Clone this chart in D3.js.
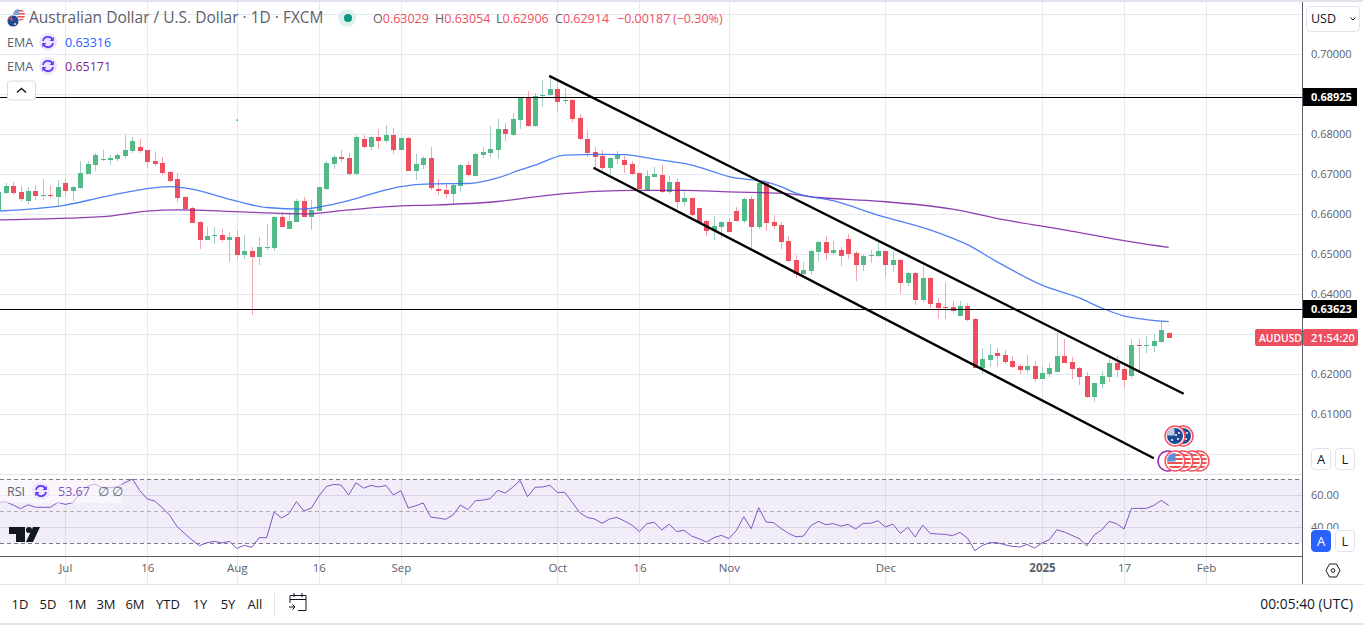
<!DOCTYPE html>
<html><head><meta charset="utf-8">
<script src="https://cdn.jsdelivr.net/npm/d3@7/dist/d3.min.js"></script>
<style>
html,body{margin:0;padding:0;background:#fff;overflow:hidden}
svg{display:block}
text{font-family:"Open Sans","Noto Sans",sans-serif}
</style></head><body><svg id="c" width="1363" height="625"></svg>
<script>
const open=[.6611,.6653,.6671,.6656,.6633,.6658,.6646,.6648,.6643,.6678,
.6658,.6666,.6701,.6723,.6736,.6736,.6738,.6746,.6758,.6768,
.6761,.6733,.6728,.6706,.6688,.6643,.6616,.6581,.6536,.6546,
.6548,.6536,.6543,.6498,.6508,.6493,.6516,.6516,.6593,.6563,
.6581,.6633,.6593,.6608,.6663,.6726,.6743,.6741,.6701,.6788,
.6768,.6793,.6783,.6798,.6761,.6791,.6708,.6723,.6741,.6663,
.6661,.6651,.6671,.6723,.6696,.6748,.6753,.6761,.6813,.6798,
.6836,.6891,.6821,.6896,.6898,.6913,.6883,.6886,.6841,.6788,
.6756,.6746,.6716,.6738,.6736,.6726,.6703,.6661,.6693,.6698,
.6656,.6681,.6631,.6641,.6616,.6583,.6558,.6568,.6581,.6608,
.6583,.6638,.6568,.6678,.6581,.6573,.6533,.6486,.6451,.6458,
.6506,.6531,.6503,.6511,.6538,.6503,.6473,.6496,.6496,.6508,
.6473,.6486,.6428,.6453,.6386,.6441,.6378,.6368,.6368,.6346,
.6371,.6338,.6216,.6236,.6253,.6248,.6233,.6221,.6211,.6221,
.6188,.6201,.6206,.6246,.6231,.6216,.6196,.6143,.6176,.6193,
.6228,.6213,.6196,.6273,.6271,.6271,.6281,.63029];
const high=[.6661,.6678,.6681,.6671,.6668,.6673,.6688,.6673,.6686,.6688,
.6671,.6733,.6733,.6753,.6761,.6748,.6753,.6798,.6793,.6788,
.6761,.6756,.6743,.6708,.6703,.6646,.6618,.6583,.6568,.6568,
.6563,.6556,.6561,.6548,.6518,.6543,.6576,.6596,.6606,.6606,
.6638,.6643,.6636,.6668,.6733,.6748,.6761,.6753,.6798,.6798,
.6796,.6813,.6823,.6816,.6793,.6793,.6751,.6746,.6768,.6688,
.6676,.6676,.6726,.6733,.6753,.6768,.6821,.6838,.6828,.6853,
.6893,.6908,.6903,.6936,.6943,.6933,.6916,.6888,.6851,.6811,
.6768,.6761,.6743,.6758,.6746,.6733,.6703,.6711,.6718,.6723,
.6696,.6691,.6658,.6641,.6616,.6586,.6596,.6583,.6591,.6618,
.6641,.6646,.6686,.6681,.6598,.6581,.6546,.6498,.6481,.6511,
.6533,.6546,.6533,.6518,.6551,.6508,.6501,.6511,.6528,.6508,
.6506,.6488,.6456,.6456,.6471,.6443,.6391,.6431,.6383,.6383,
.6378,.6341,.6266,.6276,.6266,.6261,.6246,.6226,.6248,.6233,
.6221,.6228,.6303,.6288,.6243,.6218,.6206,.6178,.6208,.6248,
.6246,.6228,.6288,.6288,.6296,.6301,.6333,.63054];
const low=[.6609,.6651,.6649,.6633,.6627,.6636,.6636,.6641,.6621,.6643,
.6633,.6663,.6701,.6708,.6733,.6723,.6733,.6741,.6753,.6753,
.6716,.6721,.6698,.6681,.6631,.6611,.6578,.6513,.6536,.6526,
.6531,.6481,.6488,.6488,.6348,.6473,.6511,.6508,.6568,.6563,
.6581,.6593,.6561,.6608,.6661,.6713,.6731,.6698,.6701,.6766,
.6761,.6763,.6778,.6751,.6761,.6708,.6686,.6713,.6661,.6648,
.6641,.6623,.6656,.6693,.6696,.6741,.6743,.6738,.6783,.6796,
.6813,.6818,.6818,.6868,.6896,.6856,.6876,.6831,.6786,.6743,
.6716,.6711,.6701,.6726,.6703,.6698,.6663,.6658,.6693,.6653,
.6651,.6613,.6621,.6596,.6578,.6546,.6536,.6541,.6556,.6581,
.6578,.6516,.6563,.6558,.6563,.6513,.6481,.6441,.6448,.6448,
.6483,.6486,.6498,.6471,.6488,.6433,.6458,.6478,.6493,.6443,
.6456,.6401,.6421,.6373,.6381,.6366,.6338,.6338,.6353,.6346,
.6333,.6216,.6201,.6218,.6218,.6226,.6216,.6201,.6203,.6181,
.6188,.6193,.6206,.6228,.6188,.6173,.6141,.6131,.6166,.6181,
.6193,.6166,.6191,.6208,.6253,.6256,.6278,.62906];
const close=[.6655,.6671,.6653,.6638,.6658,.6646,.6648,.6646,.6668,.6658,
.6668,.6703,.6726,.6748,.6738,.6741,.6748,.6761,.6783,.6758,
.6731,.6726,.6703,.6683,.6641,.6613,.6578,.6536,.6546,.6548,
.6536,.6543,.6498,.6508,.6493,.6518,.6518,.6593,.6568,.6583,
.6633,.6593,.6611,.6668,.6728,.6743,.6738,.6701,.6793,.6768,
.6793,.6783,.6798,.6761,.6791,.6708,.6726,.6741,.6666,.6658,
.6651,.6673,.6723,.6698,.6751,.6756,.6763,.6813,.6801,.6838,
.6891,.6821,.6896,.6898,.6913,.6881,.6886,.6838,.6788,.6753,
.6743,.6716,.6741,.6748,.6723,.6701,.6663,.6696,.6701,.6656,
.6681,.6631,.6641,.6598,.6578,.6558,.6571,.6581,.6556,.6583,
.6638,.6568,.6678,.6578,.6571,.6531,.6483,.6451,.6461,.6508,
.6531,.6503,.6511,.6496,.6501,.6473,.6496,.6498,.6508,.6473,
.6486,.6428,.6453,.6386,.6441,.6376,.6366,.6366,.6358,.6371,
.6336,.6216,.6238,.6248,.6246,.6231,.6218,.6211,.6221,.6188,
.6203,.6216,.6246,.6228,.6213,.6193,.6143,.6178,.6196,.6228,
.6211,.6186,.6273,.6271,.6273,.6283,.6311,.62914];
const rsi=[55.6,56.0,53.9,51.6,54.1,52.5,52.5,52.5,55.6,54.3,
55.4,61.2,65.8,67.0,64.5,64.8,65.4,67.9,70.2,62.9,
57.7,56.4,52.3,47.5,40.4,36.2,32.0,28.5,30.4,31.2,
30.2,31.2,26.8,28.7,27.5,33.5,33.5,49.5,45.8,48.5,
56.0,50.2,52.0,59.5,65.4,66.8,66.4,60.2,67.9,64.5,
66.2,65.2,66.2,60.2,62.9,52.0,53.5,55.2,46.4,45.8,
45.0,47.7,53.9,51.0,56.6,57.0,57.9,63.1,61.4,65.0,
69.3,59.1,65.0,65.2,66.2,61.8,61.8,55.6,49.1,46.2,
45.2,42.5,45.2,46.2,43.9,41.4,37.3,42.3,43.1,38.3,
42.0,37.3,38.1,34.5,32.9,30.8,33.5,35.0,32.9,37.9,
46.6,39.1,52.3,43.3,42.9,39.3,36.2,34.1,34.5,41.0,
43.7,41.6,42.3,40.8,41.8,38.9,42.5,42.5,44.1,40.2,
42.0,36.2,40.0,33.9,41.4,36.2,35.8,35.6,34.8,36.8,
33.3,25.4,28.7,30.4,30.4,29.1,28.1,27.7,29.3,27.0,
30.2,32.3,38.5,37.0,35.0,32.9,28.3,35.2,38.3,43.7,
42.3,38.9,51.8,51.8,51.8,53.7,56.8,53.67];

const emaFastBar=[0,9,14,18,23,25,32,36,41,43,47,52,54,58,63,67,70,72,76,81,84,88,93,96,98,103,105,107,112,118,125,130,134,140,145,148,151,157];
const emaFast=[.6608,.6623,.6643,.6658,.6669,.6666,.6633,.6617,.6613,.6618,.6634,.6661,.6669,.6676,.6677,.6691,.6711,.6723,.6748,.6750,.6749,.6738,.6723,.6706,.6694,.6681,.6669,.6653,.6634,.6598,.6561,.6524,.6481,.6423,.6391,.6366,.6346,.63316];
const emaSlowBar=[0,14,20,24,34,41,47,54,58,67,74,81,85,92,98,105,110,118,128,135,143,152,157];
const emaSlow=[.6586,.6594,.6608,.6611,.6605,.6601,.6611,.6621,.6623,.6632,.6648,.6658,.6660,.6660,.6656,.6653,.6642,.6633,.6613,.6586,.6561,.6531,.65171];

const trendUpperBar=[73.9,159], trendUpperPrice=[.6946,.61515];
const trendLowerBar=[79.84,155], trendLowerPrice=[.67165,.599];
const levelPrices=[.68925,.63623];
const gridPrices=[.71,.70,.69,.68,.67,.66,.65,.64,.63,.62,.61,.60];
const priceTicks=[.70,.68,.67,.66,.65,.64,.62,.61];
const rsiTicks=[60,40];
const rsiGrid=[60,40];
const rsiBands=[70,50,30];
const timeBars=[9,20,32,43,54,75,86,98,119,140,151,162];
const timeLabels=["Jul","16","Aug","16","Sep","Oct","16","Nov","Dec","2025","17","Feb"];
const rangeButtons=["1D","5D","1M","3M","6M","YTD","1Y","5Y","All"];
const legendOHLC=[["O","0.63029"],["H","0.63054"],["L","0.62906"],["C","0.62914"]];

const GREEN="#53b987",RED="#ee4f5f",WG="#a3cdc9",WR="#f3a5ad",GRID="#e3ebf0",TXT="#5d606b";
const W=1303;
const x=d3.scaleLinear().domain([9,151]).range([65.3,1124]);
const y=d3.scaleLinear().domain([.70,.60]).range([54.3,454.3]);
const yR=d3.scaleLinear().domain([60,40]).range([495.3,527.3]);
const svg=d3.select("#c");
const defs=svg.append("defs");
defs.append("clipPath").attr("id","cp").append("rect").attr("x",0).attr("y",2).attr("width",W).attr("height",473);
defs.append("clipPath").attr("id","cr").append("rect").attr("x",0).attr("y",476).attr("width",W).attr("height",80);
defs.append("clipPath").attr("id","fl").append("circle").attr("r",8);
defs.append("clipPath").attr("id","fs").append("circle").attr("r",6);

const gv=svg.append("g");
gv.selectAll("line").data(timeBars).join("line").attr("x1",d=>Math.round(x(d))+.5).attr("x2",d=>Math.round(x(d))+.5).attr("y1",2).attr("y2",584).attr("stroke",GRID);
const gh=svg.append("g");
gh.selectAll("line").data(gridPrices).join("line").attr("x1",0).attr("x2",W).attr("y1",d=>Math.round(y(d))+.5).attr("y2",d=>Math.round(y(d))+.5).attr("stroke",GRID);
svg.append("rect").attr("x",0).attr("y",0).attr("width",1363).attr("height",2).attr("fill","#e0e3eb");

const rp=svg.append("g").attr("clip-path","url(#cr)");
rp.selectAll(".rg").data(rsiGrid).join("line").attr("x1",0).attr("x2",W).attr("y1",d=>Math.round(yR(d))+.5).attr("y2",d=>Math.round(yR(d))+.5).attr("stroke","#e0e3f0");
rp.append("rect").attr("x",0).attr("width",W).attr("y",yR(rsiBands[0])).attr("height",yR(rsiBands[2])-yR(rsiBands[0])).attr("fill","#7e57c2").attr("fill-opacity",.1);
rp.selectAll(".rb").data(rsiBands).join("line").attr("x1",0).attr("x2",W).attr("y1",d=>Math.round(yR(d))+.5).attr("y2",d=>Math.round(yR(d))+.5)
 .attr("stroke","#787b86").attr("stroke-opacity",(d,i)=>i==1?.55:1).attr("stroke-dasharray","4 3");
rp.append("path").attr("d",d3.line().x((d,i)=>x(i)).y(d=>yR(d))(rsi)).attr("fill","none").attr("stroke","#7e57c2").attr("stroke-width",1);

const mp=svg.append("g").attr("clip-path","url(#cp)");
const bars=d3.range(open.length);
mp.append("g").attr("shape-rendering","crispEdges").selectAll("rect").data(bars).join("rect")
 .attr("x",i=>Math.round(x(i))).attr("width",1)
 .attr("y",i=>Math.round(y(high[i]))).attr("height",i=>Math.max(1,Math.round(y(low[i]))-Math.round(y(high[i]))))
 .attr("fill",i=>close[i]>=open[i]?WG:WR);
mp.append("g").attr("shape-rendering","crispEdges").selectAll("rect").data(bars).join("rect")
 .attr("x",i=>Math.round(x(i))-2).attr("width",5)
 .attr("y",i=>Math.round(y(Math.max(open[i],close[i]))))
 .attr("height",i=>Math.max(1,Math.round(y(Math.min(open[i],close[i])))-Math.round(y(Math.max(open[i],close[i])))))
 .attr("fill",i=>close[i]>=open[i]?GREEN:RED);
const lineOf=(bs,vs)=>d3.line().curve(d3.curveMonotoneX).x(d=>x(d[0])).y(d=>y(d[1]))(bs.map((b,i)=>[b,vs[i]]));
mp.append("path").attr("d",lineOf(emaSlowBar,emaSlow)).attr("fill","none").attr("stroke","#7b1fa2").attr("stroke-width",1.3).attr("stroke-opacity",.85);
mp.append("path").attr("d",lineOf(emaFastBar,emaFast)).attr("fill","none").attr("stroke","#2f6bf5").attr("stroke-width",1.3).attr("stroke-opacity",.85);
mp.selectAll(".lv").data(levelPrices).join("line").attr("x1",0).attr("x2",W).attr("y1",d=>Math.round(y(d))+.5).attr("y2",d=>Math.round(y(d))+.5).attr("stroke","#000");
[[trendUpperBar,trendUpperPrice],[trendLowerBar,trendLowerPrice]].forEach(([b,p])=>{
 mp.append("line").attr("x1",x(b[0])).attr("x2",x(b[1])).attr("y1",y(p[0])).attr("y2",y(p[1])).attr("stroke","#000").attr("stroke-width",2.4);
});
mp.append("rect").attr("x",x(32)-.5).attr("y",y(.6836)-.5).attr("width",1.5).attr("height",1.5).attr("fill","#00bcd4");

function flagUS(g,cx){const f=g.append("g").attr("transform",`translate(${cx},461)`);
 f.append("circle").attr("r",10).attr("fill","#fff").attr("stroke","#f7525f").attr("stroke-width",1.5);
 const c=f.append("g").attr("clip-path","url(#fl)");
 c.append("rect").attr("x",-8).attr("y",-8).attr("width",16).attr("height",16).attr("fill","#fff");
 [-7,-3,1,5].forEach(t=>c.append("rect").attr("x",-8).attr("y",t).attr("width",16).attr("height",2).attr("fill","#ef5350"));
 c.append("rect").attr("x",-8).attr("y",-8).attr("width",8.5).attr("height",8.5).attr("fill","#5b8fd8");}
function flagAU(g,cx){const f=g.append("g").attr("transform",`translate(${cx},436)`);
 f.append("circle").attr("r",10).attr("fill","#fff").attr("stroke","#f7525f").attr("stroke-width",1.5);
 f.append("circle").attr("r",8).attr("fill","#1f4b93");
 const c=f.append("g").attr("clip-path","url(#fl)");
 c.append("rect").attr("x",-8).attr("y",-8).attr("width",7.5).attr("height",7.5).attr("fill","#c3cbe0");
 [[3,3],[-3,4],[4,-3],[1,-1]].forEach(p=>c.append("circle").attr("cx",p[0]).attr("cy",p[1]).attr("r",1).attr("fill","#fff"));}
const ev=svg.append("g");
ev.append("circle").attr("cx",1168).attr("cy",461).attr("r",10).attr("fill","#fff").attr("stroke","#9c27b0").attr("stroke-width",1.5);
[1199,1192,1183,1175].forEach(c=>flagUS(ev,c));
[1183,1175].forEach(c=>flagAU(ev,c));

svg.append("line").attr("x1",0).attr("x2",W).attr("y1",474.5).attr("y2",474.5).attr("stroke","#e0e3eb");
svg.append("line").attr("x1",0).attr("x2",1363).attr("y1",584.5).attr("y2",584.5).attr("stroke","#e0e3eb");
svg.append("line").attr("x1",0).attr("x2",1303).attr("y1",556.5).attr("y2",556.5).attr("stroke","#5d606b");
svg.append("line").attr("x1",1302.5).attr("x2",1302.5).attr("y1",2).attr("y2",584).attr("stroke","#5d606b");
svg.append("rect").attr("x",0).attr("y",623).attr("width",1363).attr("height",2).attr("fill","#e0e3eb");

const fs=11;
const ya=svg.append("g").attr("transform","translate(1303,0)").call(d3.axisRight(y).tickValues(priceTicks).tickFormat(d3.format(".5f")).tickSize(0).tickPadding(8));
const yra=svg.append("g").attr("transform","translate(1303,0)").call(d3.axisRight(yR).tickValues(rsiTicks).tickFormat(d3.format(".2f")).tickSize(0).tickPadding(8));
const xa=svg.append("g").attr("transform","translate(0,556)").call(d3.axisBottom(x).tickValues(timeBars).tickFormat((d,i)=>timeLabels[i]).tickSize(0).tickPadding(8));
[ya,yra,xa].forEach(a=>{a.select(".domain").remove();a.selectAll("text").attr("font-size",fs).attr("fill",TXT).attr("font-family",'"Open Sans",sans-serif');});
xa.selectAll("text").attr("font-size",11.5).filter((d,i)=>timeLabels[i]=="2025").attr("font-weight",700);

levelPrices.forEach(p=>{const g=svg.append("g");const yy=Math.round(y(p));
 g.append("rect").attr("x",1303).attr("y",yy-9).attr("width",54).attr("height",18).attr("fill","#000");
 g.append("text").attr("x",1311).attr("y",yy+4).attr("font-size",11).attr("font-weight",700).attr("fill","#fff").text(d3.format(".5f")(p));});
svg.append("rect").attr("x",1255).attr("y",329).attr("width",47).attr("height",17).attr("rx",2).attr("fill",RED);
svg.append("rect").attr("x",1303).attr("y",329).attr("width",55).attr("height",17).attr("rx",2).attr("fill",RED);
svg.append("text").attr("x",1259).attr("y",342).attr("font-size",10.3).attr("font-weight",600).attr("fill","#fff").text("AUDUSD");
svg.append("text").attr("x",1311).attr("y",342).attr("font-size",11).attr("font-weight",600).attr("fill","#fff").text("21:54:20");

function btn(x0,y0,w,h,t,fill,col){svg.append("rect").attr("x",x0+.5).attr("y",y0+.5).attr("width",w).attr("height",h).attr("rx",3.5).attr("fill",fill).attr("stroke",fill=="#fff"?"#e0e3eb":fill);
 svg.append("text").attr("x",x0+w/2+.5).attr("y",y0+h/2+5).attr("text-anchor","middle").attr("font-size",13).attr("fill",col).text(t);}
svg.append("rect").attr("x",1304).attr("y",529).attr("width",59).attr("height",27).attr("fill","#fff");
btn(1311,448,19,21,"A","#fff","#131722");btn(1335,448,19,21,"L","#fff","#131722");
btn(1311,530,19,21,"A","#2962ff","#fff");btn(1335,530,19,21,"L","#fff","#131722");
svg.append("rect").attr("x",1306.5).attr("y",6.5).attr("width",53).attr("height",25).attr("rx",4).attr("fill","#fff").attr("stroke","#e0e3eb");
svg.append("text").attr("x",1311).attr("y",23).attr("font-size",12.5).attr("fill","#131722").text("USD");
svg.append("path").attr("d","M1350.5 17.5l2.5 2.5 2.5-2.5").attr("fill","none").attr("stroke","#131722");

svg.append("path").attr("d","M1326 570.5l3.5-6.5h7l3.5 6.5-3.5 6.5h-7z").attr("fill","none").attr("stroke","#131722");
svg.append("circle").attr("cx",1333).attr("cy",570.5).attr("r",1.8).attr("fill","none").attr("stroke","#131722");

function refresh(cx,cy){const g=svg.append("g").attr("transform",`translate(${cx},${cy})`);
 g.append("circle").attr("r",9).attr("fill","#ede7fb");
 g.append("path").attr("d","M-5 -1A5 5 0 0 1 4.4 -2.4M5 1A5 5 0 0 1 -4.4 2.4").attr("fill","none").attr("stroke","#6236ff").attr("stroke-width",1.7);
 g.append("path").attr("d","M5.8 -5.2V-1H1.6ZM-5.8 5.2V1H-1.6Z").attr("fill","#6236ff");}
const fg=svg.append("g").attr("transform","translate(19,15)");
fg.append("circle").attr("r",6).attr("fill","#fff");
const fc=fg.append("g").attr("clip-path","url(#fs)");
[-5,-2,1,4].forEach(t=>fc.append("rect").attr("x",-6).attr("y",t).attr("width",12).attr("height",1.6).attr("fill","#ef5350"));
fc.append("rect").attr("x",-6).attr("y",-6).attr("width",6).attr("height",6).attr("fill","#7f9fd4");
const fa=svg.append("g").attr("transform","translate(13,21)");
fa.append("circle").attr("r",6).attr("fill","#1f4b93").attr("stroke","#fff").attr("stroke-width",.8);
fa.append("path").attr("d","M-5-3L0-1M-2-5L-1 0").attr("stroke","#ef5350").attr("stroke-width",1.2);
fa.append("circle").attr("cx",2).attr("cy",3).attr("r",.9).attr("fill","#fff");
svg.append("text").attr("x",29).attr("y",23).attr("font-size",15.5).attr("fill","#5d606b").text("Australian Dollar / U.S. Dollar · 1D · FXCM");
svg.append("circle").attr("cx",347).attr("cy",18).attr("r",9).attr("fill","#dff1ee");
svg.append("circle").attr("cx",348).attr("cy",18).attr("r",4).attr("fill","#089981");
const lx=[373,435,496,555];
legendOHLC.forEach((d,i)=>{const t=svg.append("text").attr("x",lx[i]).attr("y",23).attr("font-size",12.5);
 t.append("tspan").attr("fill","#5d606b").text(d[0]);t.append("tspan").attr("fill",RED).text(d[1]);});
svg.append("text").attr("x",617).attr("y",23).attr("font-size",12.5).attr("fill",RED).text("−0.00187");
svg.append("text").attr("x",673).attr("y",23).attr("font-size",12.5).attr("fill",RED).text("(−0.30%)");
[[42,"0.63316","#2962ff"],[66,"0.65171","#7b1fa2"]].forEach(r=>{
 svg.append("text").attr("x",7).attr("y",r[0]+4.5).attr("font-size",12.5).attr("fill","#5d606b").text("EMA");
 refresh(48,r[0]);
 svg.append("text").attr("x",65).attr("y",r[0]+4.5).attr("font-size",12.5).attr("fill",r[2]).text(r[1]);});
svg.append("rect").attr("x",7.5).attr("y",81).attr("width",28).attr("height",19).attr("rx",3).attr("fill","#fff").attr("stroke","#d8dae3");
svg.append("path").attr("d","M17 92.5l4.5-4 4.5 4").attr("fill","none").attr("stroke","#131722").attr("stroke-width",1.4);
svg.append("rect").attr("x",0).attr("y",480).attr("width",122).attr("height",23).attr("fill","#fff").attr("fill-opacity",.55);
svg.append("text").attr("x",7).attr("y",496).attr("font-size",12.5).attr("fill","#5d606b").text("RSI");
refresh(41,491);
svg.append("text").attr("x",58).attr("y",496).attr("font-size",12.5).attr("fill","#7e57c2").text("53.67");
svg.append("text").attr("x",98).attr("y",496).attr("font-size",12.5).attr("fill","#5d606b").text("∅");
svg.append("text").attr("x",112).attr("y",496).attr("font-size",12.5).attr("fill","#5d606b").text("∅");
const lg=svg.append("g");
lg.append("path").attr("d","M9 527h16v15h-9v-8h-7z").attr("fill","#131722");
lg.append("circle").attr("cx",29).attr("cy",530).attr("r",3).attr("fill","#131722");
lg.append("path").attr("d","M33 527h7l-7 15h-7z").attr("fill","#131722");

const bxs=[20,48,77,106,135,168,200,228,255];
rangeButtons.forEach((t,i)=>svg.append("text").attr("x",bxs[i]).attr("y",609).attr("text-anchor","middle").attr("font-size",13).attr("fill","#131722").text(t));
svg.append("line").attr("x1",274.5).attr("x2",274.5).attr("y1",593).attr("y2",616).attr("stroke","#e0e3eb");
svg.append("path").attr("d","M290 603v-7.5h16v15h-8M290 599.5h16M294 593v4M302 593v4M289 607h6m-2.5-2.5l2.5 2.5-2.5 2.5").attr("fill","none").attr("stroke","#131722");
svg.append("text").attr("x",1353).attr("y",609).attr("text-anchor","end").attr("font-size",13.8).attr("fill","#131722").text("00:05:40 (UTC)");
</script></body></html>
